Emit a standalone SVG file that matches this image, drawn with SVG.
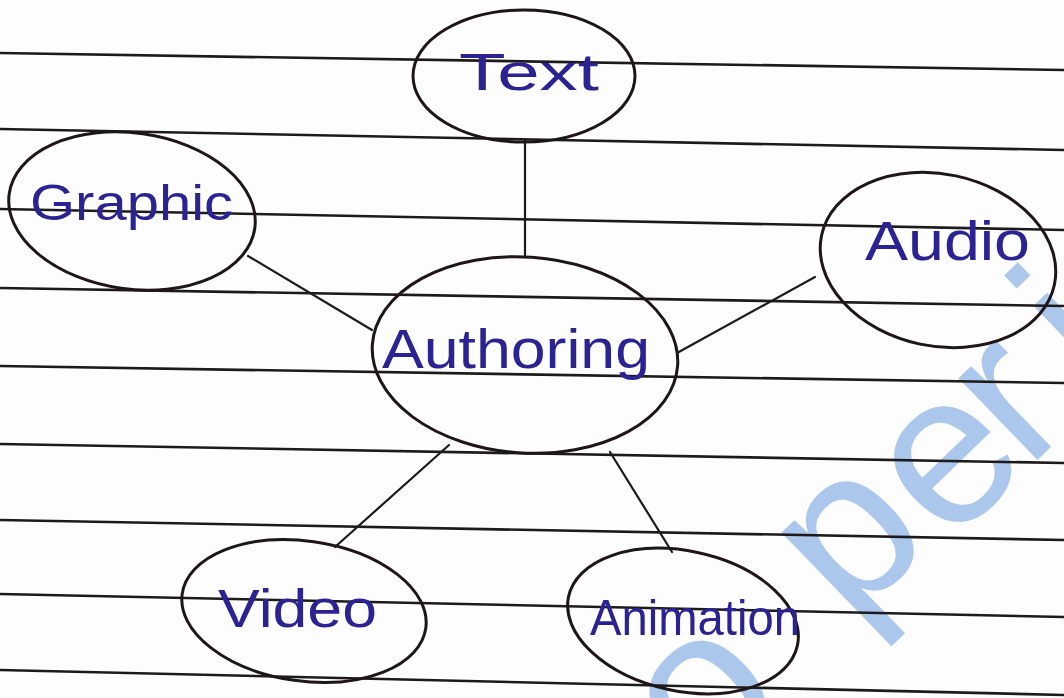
<svg xmlns="http://www.w3.org/2000/svg" width="1064" height="698" viewBox="0 0 1064 698">
  <style>
    .rule { stroke: #1e1a1a; stroke-width: 2.6; fill: none; }
    .node { fill: none; stroke: #1e1616; stroke-width: 3; }
    .edge { stroke: #1e1a1a; stroke-width: 2.2; fill: none; stroke-linecap: round; }
    .label { font-family: "Liberation Sans", Arial, sans-serif; fill: #2c2392; }
    .wm { font-family: "Liberation Sans", Arial, sans-serif; fill: #abc8ec; font-size: 215px; }
  </style>
  <rect x="0" y="0" width="1064" height="698" fill="#fdfdfd"/>
  <g id="watermark">
    <text class="wm" x="704" y="782" dx="0 95 5 -10 33" dy="0 -12 12 0 0" transform="rotate(-44 704 782)">operi</text>
  </g>
  <g id="ruled-lines">
    <line class="rule" x1="0" y1="53" x2="1064" y2="70"/>
    <line class="rule" x1="0" y1="129" x2="1064" y2="150"/>
    <line class="rule" x1="0" y1="209" x2="1064" y2="230"/>
    <line class="rule" x1="0" y1="288" x2="1064" y2="306"/>
    <line class="rule" x1="0" y1="366" x2="1064" y2="383"/>
    <line class="rule" x1="0" y1="444" x2="1064" y2="463"/>
    <line class="rule" x1="0" y1="520" x2="1064" y2="540"/>
    <line class="rule" x1="0" y1="594" x2="1064" y2="617"/>
    <line class="rule" x1="0" y1="670" x2="1064" y2="695"/>
  </g>
  <g id="connectors">
    <line class="edge" x1="525" y1="141" x2="525" y2="257"/>
    <line class="edge" x1="248" y1="256" x2="372" y2="330"/>
    <line class="edge" x1="815" y1="277" x2="677" y2="353"/>
    <line class="edge" x1="449" y1="445" x2="335" y2="547"/>
    <line class="edge" x1="610" y1="452" x2="672" y2="552"/>
  </g>
  <g id="node-text">
    <ellipse class="node" cx="524" cy="76" rx="111" ry="66"/>
    <text class="label" x="459" y="90" font-size="52" textLength="140" lengthAdjust="spacingAndGlyphs">Text</text>
  </g>
  <g id="node-graphic">
    <ellipse class="node" cx="132" cy="211" rx="124" ry="78" transform="rotate(8 132 211)"/>
    <text class="label" x="30" y="220" font-size="50" textLength="203" lengthAdjust="spacingAndGlyphs">Graphic</text>
  </g>
  <g id="node-audio">
    <ellipse class="node" cx="938" cy="260" rx="119" ry="86" transform="rotate(12 938 260)"/>
    <text class="label" x="865" y="260" font-size="56" textLength="165" lengthAdjust="spacingAndGlyphs">Audio</text>
  </g>
  <g id="node-authoring">
    <ellipse class="node" cx="525" cy="355" rx="153" ry="98" transform="rotate(4 525 355)"/>
    <text class="label" x="382" y="368" font-size="55" textLength="268" lengthAdjust="spacingAndGlyphs">Authoring</text>
  </g>
  <g id="node-video">
    <ellipse class="node" cx="304" cy="611" rx="123" ry="70" transform="rotate(8 304 611)"/>
    <text class="label" x="218" y="627" font-size="54" textLength="159" lengthAdjust="spacingAndGlyphs">Video</text>
  </g>
  <g id="node-animation">
    <ellipse class="node" cx="683" cy="621" rx="117" ry="70" transform="rotate(12 683 621)"/>
    <text class="label" x="590" y="635" font-size="50" textLength="210" lengthAdjust="spacingAndGlyphs">Animation</text>
  </g>
</svg>
